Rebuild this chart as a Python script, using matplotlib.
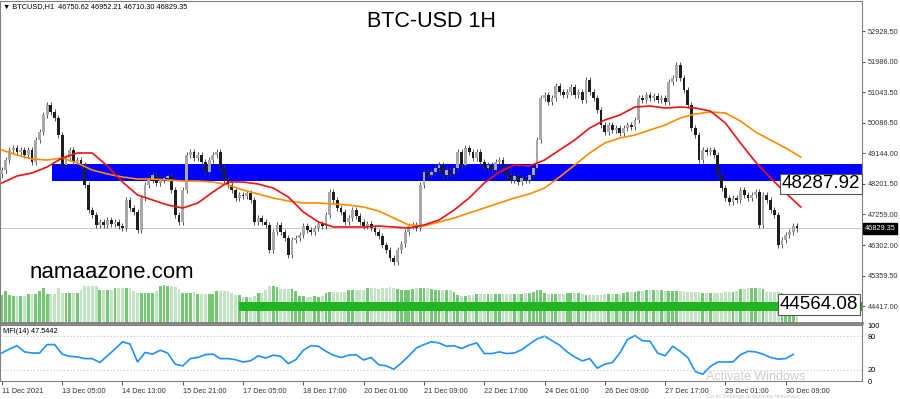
import numpy as np
import matplotlib
matplotlib.use("Agg")
import matplotlib.pyplot as plt

closes = [
    48630, 48940, 49250, 49310, 49190, 49250, 49100, 49250, 48880, 49560,
    49810, 50330, 50640, 50420, 50240, 49720, 48790, 49000, 49250, 48880,
    48940, 48790, 48170, 47400, 47240, 46930, 47030, 46930, 47090, 46970,
    47030, 46900, 46840, 47700, 47460, 47340, 46780, 47770, 48170, 48320,
    48480, 48230, 48320, 48390, 48450, 48010, 47240, 47030, 48010, 49100,
    49190, 49000, 49100, 48880, 48570, 48940, 49100, 49190, 48700, 48320,
    48170, 48010, 47770, 47860, 47830, 47920, 47700, 47030, 47150, 47030,
    46930, 46160, 46720, 46930, 46720, 46530, 46000, 46470, 46530, 46630,
    46900, 46780, 46720, 46840, 46970, 46900, 47240, 47950, 47700, 47460,
    47340, 47030, 47150, 47400, 47210, 47030, 46900, 46970, 46840, 46720,
    46590, 46310, 46160, 45910, 45790, 46160, 46350, 46720, 46900, 46930,
    46840, 48170, 48570, 48480, 48570, 48700, 48790, 48480, 48630, 48510,
    48700, 49190, 48790, 49310, 49190, 49000, 49190, 48880, 48700, 48790,
    48630, 48880, 48940, 48700, 48480, 48320, 48450, 48260, 48390, 48320,
    48480, 48700, 49560, 50860, 50950, 50740, 50860, 51230, 51040, 50950,
    51040, 51200, 50950, 51040, 50800, 51410, 51040, 50860, 50490, 50020,
    49810, 50020, 49870, 49930, 49780, 49930, 50020, 49960, 50180, 50860,
    50800, 50950, 50860, 50920, 50800, 50860, 50740, 51350, 51480, 51880,
    51480, 51110, 50640, 49930, 49720, 48940, 49250, 49190, 49250, 49100,
    48480, 48080, 47770, 47640, 47770, 47700, 48010, 47860, 47770, 47860,
    47950, 46930, 47860, 47700, 47400, 47240, 46310, 46470, 46630, 46720,
    46900, 46829,
]
first_open = 48500

# tick volume (hundreds), same sampling as closes
volume = [
    28, 32, 28, 27, 27, 27, 27, 29, 29, 29, 32, 35, 29, 29, 29, 35,
    30, 30, 30, 30, 30, 33, 37, 37, 37, 37, 33, 33, 33, 33,
    35, 35, 35, 35, 35, 32, 30, 30, 30, 30, 30, 32,
    37, 38, 37, 37, 36, 34, 30, 30, 30, 31, 29, 29, 29, 29, 29,
    32, 32, 32, 32, 30, 28, 28, 26, 26, 26, 27, 30, 30, 33, 37, 37, 36,
    34, 34, 34, 34, 32, 27, 27, 26, 26, 27, 26, 27, 30, 31, 31, 31, 31, 31,
    33, 33, 33, 33, 33, 35, 35, 35, 34, 35, 35, 36, 35, 34, 33, 33, 33, 34,
    35, 35, 35, 35, 34, 33, 33, 33, 33, 33, 31, 28, 27, 27, 28, 28,
    29, 29, 29, 29, 29, 29, 29, 29, 29, 29, 29, 29, 29, 30, 30, 31,
    33, 33, 30, 29, 29, 29, 29, 29, 30, 30, 30, 30, 29, 28, 28, 28, 28, 28, 29,
    29, 29, 29, 29, 30, 31, 31, 31, 32, 32, 33, 33, 33, 33, 33, 32,
    32, 32, 32, 32, 32, 31, 31, 31, 31, 30, 30, 30, 30, 30, 30,
    31, 31, 31, 32, 34, 34, 35, 35, 35, 35, 34, 31, 31, 31, 31, 30, 29, 28, 28, 27,
]

# moving averages, every 8 bars
ma_fast = [
    48232, 48448, 48541, 48726, 49004, 49159, 49159, 48757, 48263, 47861,
    47707, 47552, 47459, 47614, 47954, 48263, 48263, 48201, 48077, 47799,
    47336, 47027, 46872, 46872, 46872, 46903, 46872, 46841, 46934, 47088,
    47397, 47768, 48232, 48572, 48788, 48757, 48942, 49251, 49560, 49931,
    50178, 50333, 50580, 50611, 50549, 50580, 50549, 50456, 50086, 49468,
    48881, 48386, 47923, 47490,
]
ma_slow = [
    49251, 49097, 48973, 48942, 49004, 48850, 48633, 48510, 48417, 48355,
    48355, 48324, 48293, 48293, 48263, 48170, 48015, 47892, 47768, 47675,
    47614, 47614, 47583, 47552, 47490, 47366, 47150, 46934, 46903, 47027,
    47150, 47305, 47459, 47614, 47768, 47892, 48077, 48417, 48788, 49159,
    49468, 49622, 49715, 49869, 50024, 50240, 50364, 50426, 50395, 50148,
    49808, 49560, 49313, 49035,
]

# MFI(14), every 4 bars
mfi = [
    50, 57, 63, 52, 50, 50, 65, 65, 48, 44,
    43, 40, 40, 33, 45, 57, 70, 66, 34, 51,
    48, 55, 50, 30, 27, 40, 42, 47, 48, 40,
    40, 38, 34, 36, 45, 41, 46, 44, 31, 38,
    55, 63, 62, 53, 46, 42, 46, 47, 37.5, 42,
    29, 27, 21, 32, 45, 59, 65, 70, 68, 62,
    63, 58, 64, 68, 49, 49, 52, 49, 50, 56,
    66, 75, 80, 72, 64, 52, 43, 36, 40, 23,
    30, 33, 50, 74, 81, 72, 71, 50, 45, 62,
    53, 42, 17, 12, 26, 34, 34, 34, 47, 53,
    52, 48, 42, 39, 40, 47.5442,
]

price_ticks = [52928.50, 51986.00, 51043.50, 50086.50, 49144.00,
               48201.50, 47259.00, 46302.00, 45359.50, 44417.00]
time_labels = ["11 Dec 2021", "13 Dec 05:00", "14 Dec 13:00", "15 Dec 21:00",
               "17 Dec 05:00", "18 Dec 17:00", "20 Dec 01:00", "21 Dec 09:00",
               "22 Dec 17:00", "24 Dec 01:00", "26 Dec 09:00", "27 Dec 17:00",
               "29 Dec 01:00", "30 Dec 09:00"]
blue_zone = (48287.92, 48820)
green_zone = (44276, 44564.08)
last_price = 46829.35
header = "BTCUSD,H1  46750.62 46952.21 46710.30 46829.35"

W, H = 900, 399
FONT = ["Liberation Sans", "DejaVu Sans"]
plt.rcParams["font.family"] = FONT


def frame(x0, y0, x1, y1):
    return [x0 / W, 1 - y1 / H, (x1 - x0) / W, (y1 - y0) / H]


fig = plt.figure(figsize=(9, 3.99), dpi=100)
vol_ax = fig.add_axes(frame(0, 1, 862, 323))
ax = fig.add_axes(frame(0, 1, 862, 323))
mfi_ax = fig.add_axes(frame(0, 325, 862, 381))
ax.set_zorder(vol_ax.get_zorder() + 1)
ax.patch.set_visible(False)

XMAX = 456.5
for a in (vol_ax, ax, mfi_ax):
    a.set_xlim(-1, XMAX)

# candles
closes = np.array(closes, dtype=float)
opens = np.concatenate([[first_open], closes[:-1]])
xs = np.arange(len(closes)) * 2
up = closes >= opens
wick = 100
ax.vlines(xs, np.minimum(opens, closes) - wick, np.maximum(opens, closes) + wick,
          color="#3a3a3a", lw=0.6, zorder=3)
ax.bar(xs, closes - opens, bottom=opens, width=1.5,
       color=np.where(up, "#a8a8a8", "#1e1e1e"), zorder=4)

# volume
vol_ax.bar(xs, volume, width=1.5,
           color=np.where(up, "#74c874", "#c2e4c2"))
vol_ax.set_ylim(0, 322)
vol_ax.axis("off")

# zones
ax.fill_between([26.5, XMAX], blue_zone[0], blue_zone[1], color="#0000ff", lw=0, zorder=2)
ax.fill_between([126, XMAX], green_zone[0], green_zone[1], color="#22b522", lw=0, zorder=2)

# moving averages
ax.plot(np.arange(len(ma_slow)) * 8, ma_slow, color="#ff8c00", lw=1.2, zorder=5)
ax.plot(np.arange(len(ma_fast)) * 8, ma_fast, color="#ee1111", lw=1.2, zorder=5)

ax.axhline(last_price, color="#c8c8c8", lw=0.7, zorder=1)

ax.set_ylim(43906, 53856)
ax.yaxis.tick_right()
ax.set_yticks(price_ticks)
ax.set_yticklabels([f"{v:.2f}" for v in price_ticks], fontsize=5.3)
ax.tick_params(axis="y", length=2, pad=2, colors="#333333", width=0.6)
ax.set_xticks([])
for side in ("left", "top", "right", "bottom"):
    ax.spines[side].set_color("#808080")
ax.spines["bottom"].set_linewidth(2)

# zone labels
box = dict(boxstyle="square,pad=0.1", fc="white", ec="#555555", lw=0.8)
ax.annotate(f"{blue_zone[0]:.2f}", xy=(455.5, blue_zone[0]), xytext=(0, -2),
            textcoords="offset points", ha="right", va="center",
            fontsize=13.5, bbox=box, zorder=6)
ax.annotate(f"{green_zone[1]:.2f}", xy=(454.5, green_zone[1]), xytext=(0, -2),
            textcoords="offset points", ha="right", va="center",
            fontsize=13.5, bbox=box, zorder=6)

ax.text(1.003, last_price, f"{last_price:.2f}", transform=ax.get_yaxis_transform(),
        fontsize=5.3, color="white", va="center", ha="left", clip_on=False,
        bbox=dict(boxstyle="square,pad=0.25", fc="black", ec="black"))

ax.text(0.5, 0.935, "BTC-USD 1H", transform=ax.transAxes, ha="center", va="center",
        fontsize=15.5)
ax.text(30 / 862, 1 - 271 / 322, "namaazone.com", transform=ax.transAxes,
        ha="left", va="center", fontsize=16)
fig.text(3 / W, 1 - 7 / H, "\u25bc " + header, fontsize=5.3, va="center", ha="left")

# MFI panel
mfi_ax.plot(np.arange(len(mfi)) * 4, mfi, color="#1e90ff", lw=1.2)
mfi_ax.set_ylim(0, 100)
for lvl in (80, 20):
    mfi_ax.axhline(lvl, color="#c0c0c0", lw=0.8, ls=(0, (1, 2)))
mfi_ax.yaxis.tick_right()
mfi_ax.set_yticks([100, 80, 20, 0])
mfi_ax.set_yticklabels(["100", "80", "20", "0"], fontsize=5.3)
mfi_ax.tick_params(axis="y", length=0, pad=4)
mfi_ax.text(3 / 862, 0.88, f"MFI(14) {mfi[-1]:.4f}", transform=mfi_ax.transAxes,
            fontsize=5.3, va="center")
mfi_ax.set_xticks(np.arange(len(time_labels)) * 32)
mfi_ax.set_xticklabels(time_labels, fontsize=5.3, ha="left")
mfi_ax.tick_params(axis="x", length=3, pad=2, width=0.6, colors="#333333")
for side in ("left", "top", "right", "bottom"):
    mfi_ax.spines[side].set_color("#808080")

# Windows activation watermark captured in the screenshot
fig.text(706 / W, 1 - 377 / H, "Activate Windows", fontsize=9, color="#cccccc",
         va="center", zorder=0)
fig.text(706 / W, 1 - 399 / H, "Go to Settings to activate Windows.", fontsize=4.3,
         color="#cccccc", va="bottom", zorder=0)

fig.savefig("out.png", dpi=100)
